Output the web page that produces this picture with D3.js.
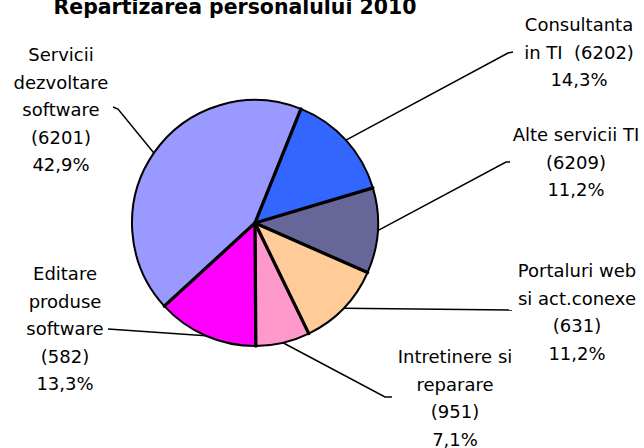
<!DOCTYPE html>
<html><head><meta charset="utf-8">
<script src="https://cdn.jsdelivr.net/npm/d3@7"></script>
<style>
html,body{margin:0;padding:0;background:#fff;}
svg{display:block;}
</style></head>
<body>
<script>
// ---- data ----
const categories = ["Servicii dezvoltare software (6201)", "Consultanta in TI (6202)", "Alte servicii TI (6209)", "Portaluri web si act.conexe (631)", "Intretinere si reparare (951)", "Editare produse software (582)"];
const values = [42.9, 14.3, 11.2, 11.2, 7.1, 13.3];
const percentLabels = ["42,9%", "14,3%", "11,2%", "11,2%", "7,1%", "13,3%"];
const labelLines = [
  ["Servicii", "dezvoltare", "software", "(6201)"],
  ["Consultanta", "in TI \u00A0(6202)"],
  ["Alte servicii TI", "(6209)"],
  ["Portaluri web", "si act.conexe", "(631)"],
  ["Intretinere si", "reparare", "(951)"],
  ["Editare", "produse", "software", "(582)"]
];
const colors = ["#9999FF", "#3366FF", "#666699", "#FFCC99", "#FF99CC", "#FF00FF"];
const title = "Repartizarea personalului 2010";

// ---- layout ----
const W = 644, H = 448;
const cx = 255, cy = 223, R = 123;
const labelPos = [ // center x, first baseline
  [61, 61], [579, 31], [576, 141], [577, 277], [455, 363], [65, 280]
];
const lineGap = 27.5;
const leaderPts = [ // elbow points after the slice mid-point
  [[118, 109], [113, 107]],
  [[508, 53], [513, 52]],
  [[506, 162], [510, 162]],
  [[512, 310]],
  [[385, 397], [392, 397]],
  [[108, 329]]
];

const svg = d3.select("body").append("svg").attr("width", W).attr("height", H);

svg.append("text").attr("x", 235).attr("y", 14)
  .attr("text-anchor", "middle")
  .style("font-family", "'DejaVu Sans', sans-serif").style("font-weight", "bold").style("font-size", "21px")
  .attr("textLength", 363).attr("lengthAdjust", "spacingAndGlyphs")
  .text(title);

const pie = d3.pie().sort(null).value(d => d).startAngle(-132.5 * Math.PI / 180).endAngle((360 - 132.5) * Math.PI / 180);
const arcs = pie(values);
const arc = d3.arc().innerRadius(0).outerRadius(R);

const g = svg.append("g").attr("transform", `translate(${cx},${cy})`);
g.selectAll("path.slice").data(arcs).enter().append("path")
  .attr("class", "slice")
  .attr("d", arc)
  .attr("fill", (d, i) => colors[i])
  .attr("stroke", "#000").attr("stroke-width", 2).attr("stroke-linejoin", "round");

// thicker separators
g.selectAll("line.sep").data(arcs).enter().append("line")
  .attr("x1", 0).attr("y1", 0)
  .attr("x2", d => R * Math.sin(d.startAngle)).attr("y2", d => -R * Math.cos(d.startAngle))
  .attr("stroke", "#000").attr("stroke-width", 3.3).attr("stroke-linecap", "round");

// leader lines
arcs.forEach((d, i) => {
  const m = (d.startAngle + d.endAngle) / 2;
  const p0 = [cx + R * Math.sin(m), cy - R * Math.cos(m)];
  const pts = [p0].concat(leaderPts[i]);
  svg.append("path").attr("d", d3.line()(pts))
    .attr("fill", "none").attr("stroke", "#000").attr("stroke-width", 1.5);
});

// labels
labelLines.forEach((lines, i) => {
  const all = lines.concat([percentLabels[i]]);
  const t = svg.append("text")
    .attr("text-anchor", "middle")
    .style("font-family", "'DejaVu Sans', sans-serif").style("font-size", "18px").attr("fill", "#000");
  all.forEach((s, k) => {
    t.append("tspan").attr("x", labelPos[i][0]).attr("y", labelPos[i][1] + k * lineGap).text(s);
  });
});
</script>
</body></html>
